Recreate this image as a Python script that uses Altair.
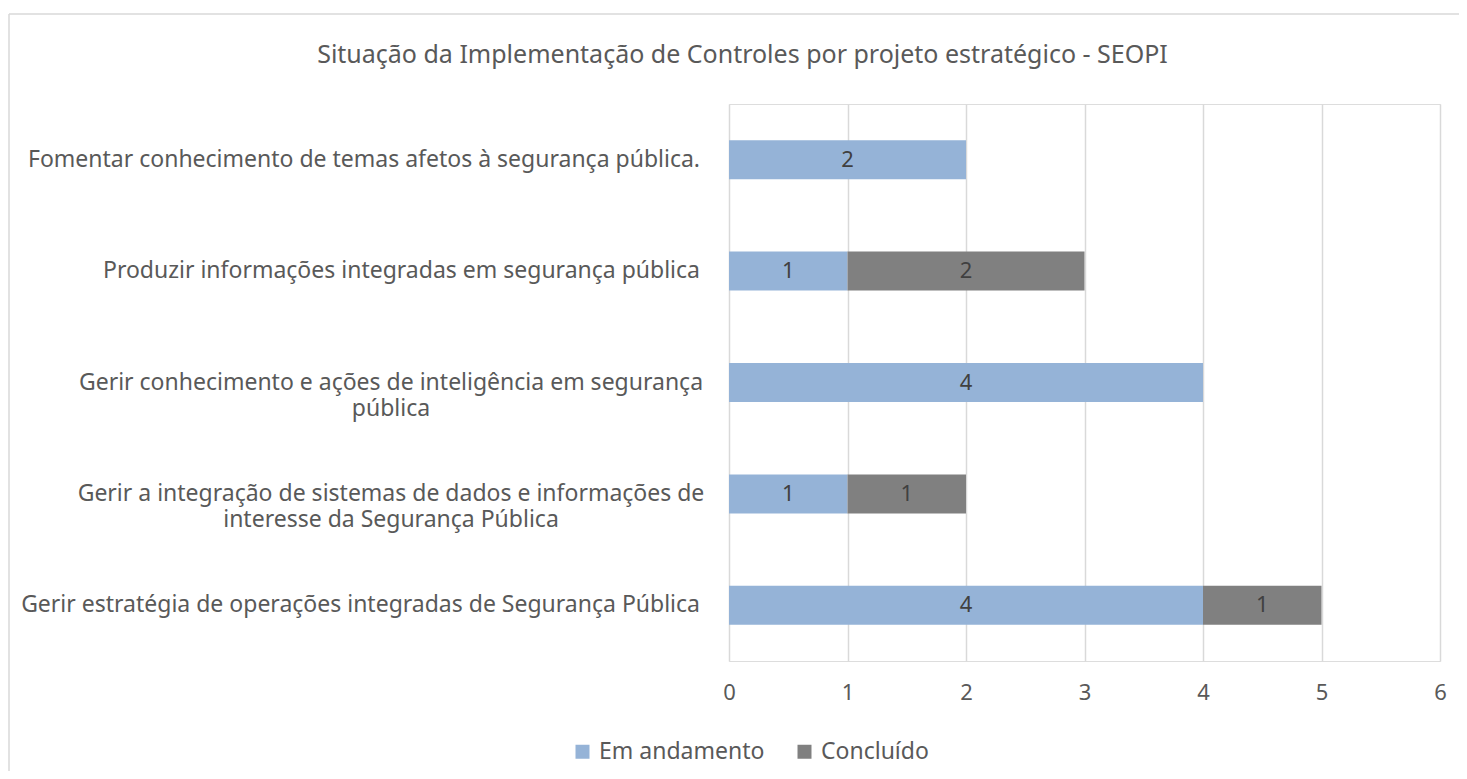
import altair as alt
import pandas as pd

FONT = "Noto Sans"

categories = [
    "Fomentar conhecimento de temas afetos à segurança pública.",
    "Produzir informações integradas em segurança pública",
    "Gerir conhecimento e ações de inteligência em segurança pública",
    "Gerir a integração de sistemas de dados e informações de interesse da Segurança Pública",
    "Gerir estratégia de operações integradas de Segurança Pública",
]
label_lines = [
    ["Fomentar conhecimento de temas afetos à segurança pública."],
    ["Produzir informações integradas em segurança pública"],
    ["Gerir conhecimento e ações de inteligência em segurança", "pública"],
    ["Gerir a integração de sistemas de dados e informações de", "interesse da Segurança Pública"],
    ["Gerir estratégia de operações integradas de Segurança Pública"],
]
series = ["Em andamento", "Concluído"]
em_andamento = [2, 1, 4, 1, 4]
concluido = [0, 2, 0, 1, 1]
colors = ["#95B3D7", "#808080"]
x_ticks = [0, 1, 2, 3, 4, 5, 6]

rows = []
for c, a, b in zip(categories, em_andamento, concluido):
    rows.append({"cat": c, "serie": series[0], "ord": 0, "value": a})
    rows.append({"cat": c, "serie": series[1], "ord": 1, "value": b})
df = pd.DataFrame(rows)
df = df[df["value"] > 0]

lab_df = pd.DataFrame({"cat": categories, "label": ["|".join(l) for l in label_lines]})

yscale = alt.Scale(domain=categories, paddingInner=0.65, paddingOuter=0.325)
y_enc = alt.Y("cat:N", sort=categories, scale=yscale, axis=None)

LS = 23

bars = alt.Chart(df).mark_bar().encode(
    y=y_enc,
    x=alt.X("value:Q", stack="zero",
            scale=alt.Scale(domain=[0, 6], nice=False),
            axis=alt.Axis(values=x_ticks, grid=True, gridColor="#D9D9D9", gridWidth=1.5,
                          domain=False, ticks=False, labelPadding=21, labelFontSize=22,
                          labelColor="#595959", labelFont=FONT, title=None, format="d",
                          labelFlush=False)),
    color=alt.Color("serie:N", sort=series,
                    scale=alt.Scale(domain=series, range=colors),
                    legend=alt.Legend(orient="none", legendX=-158, legendY=636,
                                      direction="horizontal", title=None, padding=0,
                                      symbolType="square", symbolSize=196,
                                      symbolStrokeWidth=0, labelFontSize=LS,
                                      labelColor="#595959", labelFont=FONT,
                                      labelLimit=400,
                                      labelOffset=5, columnPadding=28)),
    order=alt.Order("ord:Q"),
)

bar_text = alt.Chart(df).transform_window(
    cum="sum(value)", groupby=["cat"], sort=[alt.SortField("ord", order="ascending")],
    frame=[None, 0]
).transform_calculate(
    mid="datum.cum - datum.value / 2"
).mark_text(fontSize=22, color="#404040", font=FONT, baseline="middle").encode(
    y=y_enc,
    x=alt.X("mid:Q"),
    text=alt.Text("value:Q", format="d"),
)

single_labels = alt.Chart(lab_df).transform_filter(
    "indexof(datum.label, '|') < 0"
).mark_text(align="right", baseline="middle", fontSize=LS, color="#595959", font=FONT).encode(
    y=y_enc, x=alt.value(-29), text="label:N"
)

wrapped_labels = alt.Chart(lab_df).transform_filter(
    "indexof(datum.label, '|') >= 0"
).transform_calculate(
    lines="split(datum.label, '|')"
).mark_text(align="center", baseline="middle", fontSize=LS, lineHeight=26,
            color="#595959", font=FONT).encode(
    y=y_enc, x=alt.value(-338), text="lines:N"
)

one = pd.DataFrame({"a": [0]})
border_left = alt.Chart(one).mark_rule(color="#D9D9D9", strokeWidth=1.5).encode(
    x=alt.value(-720), y=alt.value(-90), y2=alt.value(680))
border_top = alt.Chart(one).mark_rule(color="#D9D9D9", strokeWidth=1.5).encode(
    x=alt.value(-720), x2=alt.value(740), y=alt.value(-90))

chart = alt.layer(border_left, border_top, bars, bar_text, single_labels, wrapped_labels).properties(
    width=711, height=557,
    padding={"left": 721, "top": 96, "right": 19, "bottom": 110},
    autosize=alt.AutoSizeParams(type="none"),
    title=alt.Title("Situação da Implementação de Controles por projeto estratégico - SEOPI",
                    anchor="middle", frame="group", dx=-342, fontSize=25, font=FONT,
                    fontWeight="normal", color="#595959", offset=-75, baseline="alphabetic"),
).configure_view(stroke=None).configure(background="white")

chart.save("out.html", embed_options={"renderer": "svg", "actions": False})
